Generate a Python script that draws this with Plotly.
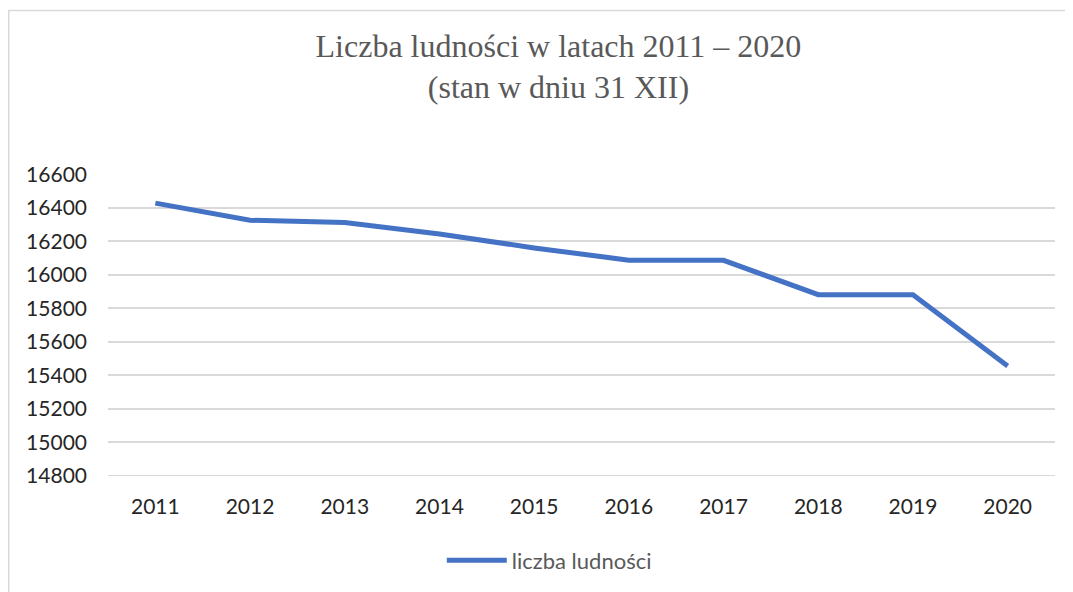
import plotly.graph_objects as go

years = ["2011", "2012", "2013", "2014", "2015", "2016", "2017", "2018", "2019", "2020"]
population = [16427, 16325, 16312, 16243, 16160, 16087, 16086, 15881, 15880, 15456]
y_ticks = [14800, 15000, 15200, 15400, 15600, 15800, 16000, 16200, 16400, 16600]
y_tick_labels = [str(v) for v in y_ticks]

L, R, T, B = 100, 26, 166, 124
PW, PH = 1073 - L - R, 592 - T - B

fig = go.Figure()
fig.add_trace(go.Scatter(
    x=years, y=population, mode="lines", name="liczba ludności",
    line=dict(color="#4472C4", width=5, shape="linear"),
))

fig.update_layout(
    width=1073, height=592,
    margin=dict(l=L, r=R, t=T, b=B, autoexpand=False),
    paper_bgcolor="white", plot_bgcolor="white",
    title=dict(
        text="Liczba ludności w latach 2011 – 2020<br>(stan w dniu 31 XII)",
        x=0.513, xanchor="center", y=0.918, yanchor="top",
        font=dict(family="Liberation Serif", size=32, color="#595959"),
    ),
    showlegend=True,
    legend=dict(
        orientation="h", x=0.466, xanchor="center", y=-0.28, yanchor="middle",
        font=dict(family="Lato", size=22, color="#595959"),
        itemwidth=60,
    ),
    xaxis=dict(
        type="category", range=[-0.5, 9.5], showgrid=False, zeroline=False,
        showline=False, ticks="", ticklabelstandoff=16, automargin=False,
        tickfont=dict(family="Lato", size=21, color="#262626"),
    ),
    yaxis=dict(
        range=[14799, 16601], tickvals=y_ticks, ticktext=y_tick_labels, showgrid=True,
        gridcolor="#D9D9D9", gridwidth=1.5, zeroline=False, showline=False,
        ticks="", ticklabelstandoff=20, automargin=False,
        tickfont=dict(family="Lato", size=21, color="#262626"),
    ),
    shapes=[
        dict(
            type="rect", xref="paper", yref="paper",
            x0=(0.75 - L) / PW, x1=(1085 - L) / PW,
            y0=-(B + 20) / PH, y1=(592 - 2.5 - B) / PH,
            line=dict(color="#D9D9D9", width=1.5), fillcolor="rgba(0,0,0,0)", layer="below",
        ),
        dict(
            type="line", xref="paper", yref="y", x0=0, x1=1,
            y0=y_ticks[0], y1=y_ticks[0],
            line=dict(color="#D9D9D9", width=1.5), layer="below",
        ),
    ],
)

fig.write_html("out.html")
